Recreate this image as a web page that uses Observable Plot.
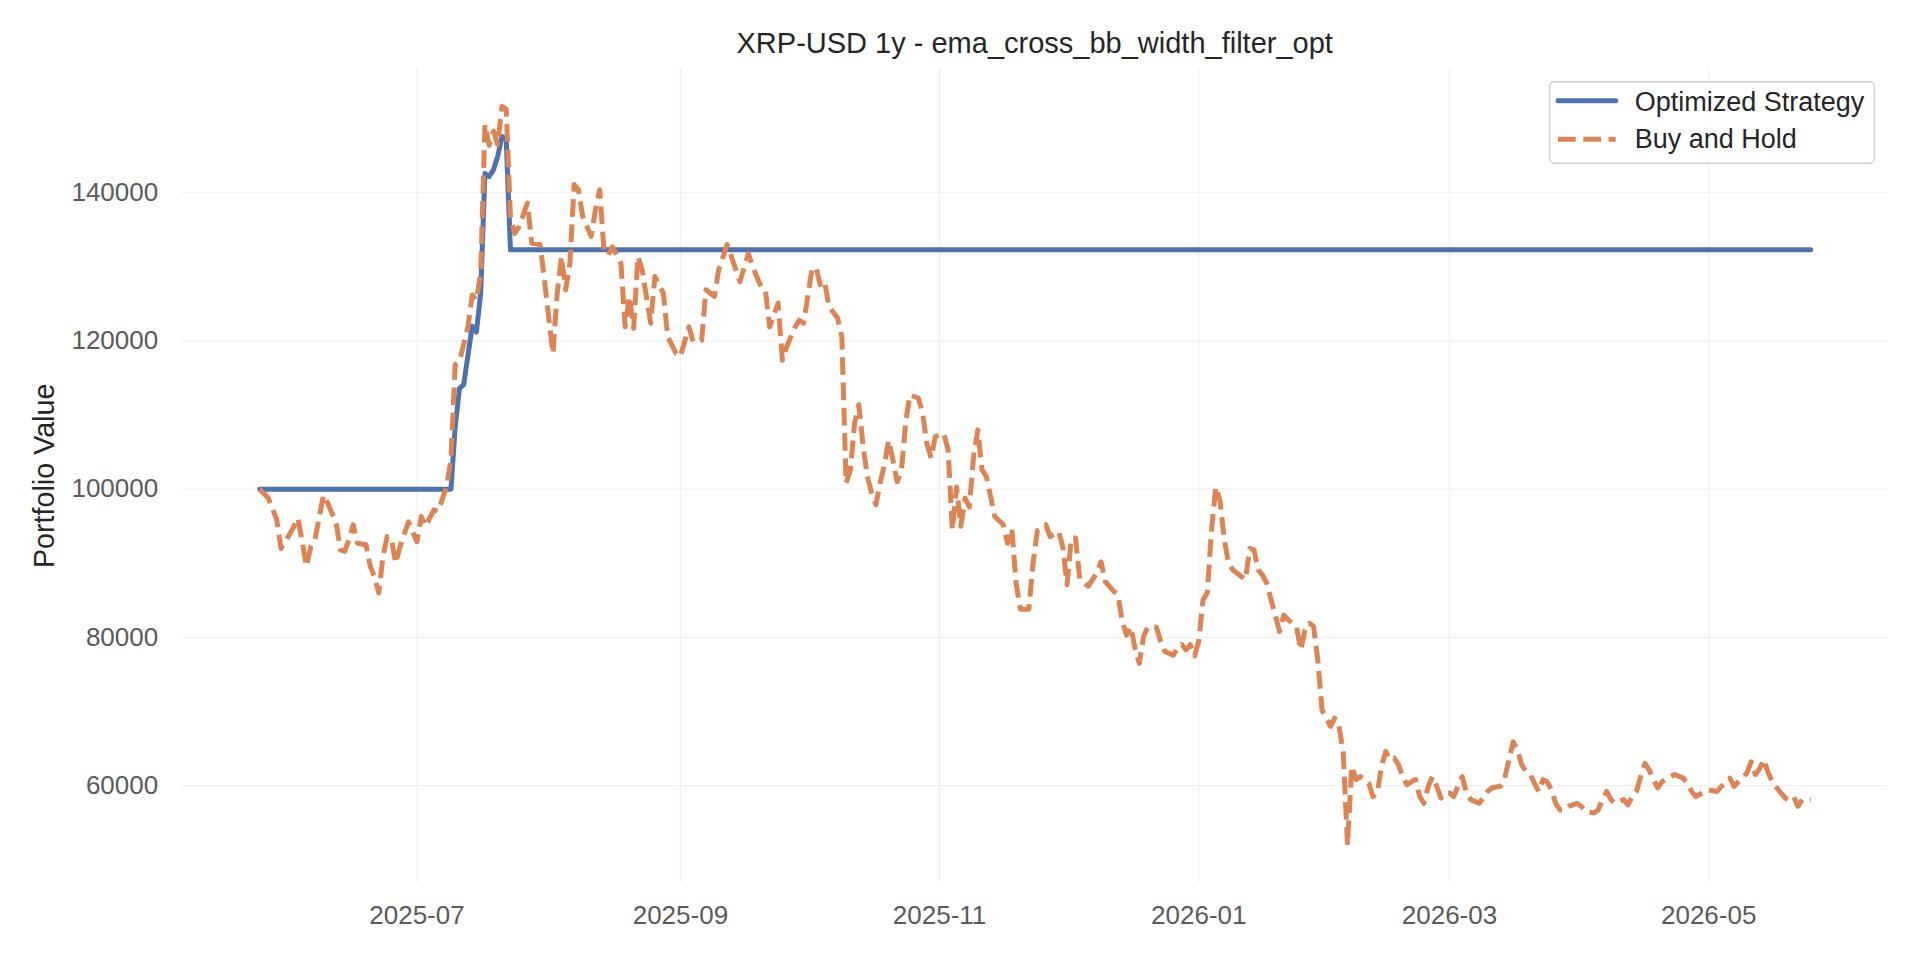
<!DOCTYPE html>
<html>
<head>
<meta charset="utf-8">
<script src="https://cdn.jsdelivr.net/npm/d3@7"></script>
<script src="https://cdn.jsdelivr.net/npm/@observablehq/plot@0.6"></script>
<style>
  html, body { margin: 0; padding: 0; background: #ffffff; }
  body { width: 1920px; height: 960px; position: relative; overflow: hidden;
         font-family: "Liberation Sans", Arial, "DejaVu Sans", sans-serif; }
  #title { position: absolute; left: 0; top: 0; }
  #chart { position: absolute; left: 0; top: 60px; }
  #legend { position: absolute; left: 1549px; top: 81px; }
</style>
</head>
<body>
<svg id="title" width="1920" height="60"></svg>
<div id="chart"></div>
<svg id="legend" width="328" height="86"></svg>
<script>
const chartTitle = "XRP-USD 1y - ema_cross_bb_width_filter_opt";
const yLabel = "Portfolio Value";
const seriesNames = ["Optimized Strategy", "Buy and Hold"];
const seriesColors = ["#4c72b0", "#dd8452"];

const strategyDates = ["2025-05-25","2025-07-09","2025-07-10","2025-07-11","2025-07-12","2025-07-14","2025-07-15","2025-07-16","2025-07-17","2025-07-18","2025-07-19","2025-07-20","2025-07-21","2025-07-22","2025-07-23","2026-05-25"];
const strategyValues = [100000,100000,108400,113600,114100,122000,121200,126500,142600,142200,143100,144900,147600,147300,132300,132300];

const holdDates = [
"2025-05-25","2025-05-27","2025-05-29","2025-05-30","2025-05-31","2025-06-02","2025-06-03","2025-06-05","2025-06-06","2025-06-07",
"2025-06-09","2025-06-10","2025-06-12","2025-06-13","2025-06-14","2025-06-15","2025-06-16","2025-06-17","2025-06-19","2025-06-20",
"2025-06-21","2025-06-22","2025-06-23","2025-06-24","2025-06-25","2025-06-26","2025-06-27","2025-06-29","2025-07-01","2025-07-02",
"2025-07-03","2025-07-05","2025-07-06","2025-07-08","2025-07-09","2025-07-10","2025-07-11","2025-07-13","2025-07-14","2025-07-15",
"2025-07-16","2025-07-17","2025-07-18","2025-07-19","2025-07-20","2025-07-21","2025-07-22","2025-07-23","2025-07-24","2025-07-25",
"2025-07-27","2025-07-28","2025-07-30","2025-07-31","2025-08-02","2025-08-03","2025-08-04","2025-08-05","2025-08-06","2025-08-07",
"2025-08-08","2025-08-09","2025-08-11","2025-08-12","2025-08-13","2025-08-14","2025-08-15","2025-08-16","2025-08-18","2025-08-19",
"2025-08-20","2025-08-21","2025-08-22","2025-08-23","2025-08-25","2025-08-26","2025-08-28","2025-08-29","2025-08-31","2025-09-01",
"2025-09-03","2025-09-04","2025-09-06","2025-09-07","2025-09-09","2025-09-10","2025-09-12","2025-09-13","2025-09-15","2025-09-17",
"2025-09-18","2025-09-20","2025-09-21","2025-09-22","2025-09-24","2025-09-25","2025-09-26","2025-09-28","2025-09-29","2025-09-30",
"2025-10-02","2025-10-03","2025-10-04","2025-10-05","2025-10-06","2025-10-08","2025-10-09","2025-10-10","2025-10-11","2025-10-12",
"2025-10-13","2025-10-14","2025-10-15","2025-10-16","2025-10-17","2025-10-18","2025-10-19","2025-10-20","2025-10-21","2025-10-22",
"2025-10-23","2025-10-24","2025-10-25","2025-10-27","2025-10-28","2025-10-29","2025-10-30","2025-10-31","2025-11-02","2025-11-03",
"2025-11-04","2025-11-05","2025-11-06","2025-11-07","2025-11-08","2025-11-09","2025-11-10","2025-11-11","2025-11-12","2025-11-14",
"2025-11-16","2025-11-17","2025-11-18","2025-11-19","2025-11-20","2025-11-22","2025-11-23","2025-11-24","2025-11-25","2025-11-26",
"2025-11-27","2025-11-29","2025-11-30","2025-12-01","2025-12-02","2025-12-03","2025-12-04","2025-12-06","2025-12-08","2025-12-09",
"2025-12-10","2025-12-12","2025-12-13","2025-12-14","2025-12-15","2025-12-16","2025-12-17","2025-12-18","2025-12-19","2025-12-20",
"2025-12-22","2025-12-23","2025-12-24","2025-12-26","2025-12-27","2025-12-28","2025-12-29","2025-12-30","2025-12-31","2026-01-01",
"2026-01-02","2026-01-03","2026-01-04","2026-01-05","2026-01-06","2026-01-07","2026-01-08","2026-01-09","2026-01-12","2026-01-13",
"2026-01-14","2026-01-15","2026-01-16","2026-01-17","2026-01-18","2026-01-20","2026-01-21","2026-01-22","2026-01-24","2026-01-25",
"2026-01-26","2026-01-27","2026-01-28","2026-01-29","2026-01-30","2026-02-01","2026-02-02","2026-02-03","2026-02-04","2026-02-05",
"2026-02-06","2026-02-07","2026-02-08","2026-02-10","2026-02-11","2026-02-12","2026-02-13","2026-02-14","2026-02-15","2026-02-16",
"2026-02-17","2026-02-18","2026-02-19","2026-02-20","2026-02-21","2026-02-22","2026-02-23","2026-02-24","2026-02-25","2026-02-26",
"2026-02-27","2026-02-28","2026-03-01","2026-03-02","2026-03-03","2026-03-04","2026-03-05","2026-03-06","2026-03-08","2026-03-10",
"2026-03-11","2026-03-13","2026-03-14","2026-03-15","2026-03-16","2026-03-17","2026-03-18","2026-03-19","2026-03-20","2026-03-21",
"2026-03-22","2026-03-23","2026-03-24","2026-03-25","2026-03-26","2026-03-27","2026-03-28","2026-03-29","2026-03-31","2026-04-01",
"2026-04-02","2026-04-04","2026-04-05","2026-04-06","2026-04-07","2026-04-08","2026-04-09","2026-04-11","2026-04-12","2026-04-13",
"2026-04-14","2026-04-15","2026-04-16","2026-04-17","2026-04-18","2026-04-19","2026-04-20","2026-04-22","2026-04-23","2026-04-25",
"2026-04-26","2026-04-27","2026-04-28","2026-04-30","2026-05-01","2026-05-03","2026-05-04","2026-05-06","2026-05-07","2026-05-08",
"2026-05-09","2026-05-10","2026-05-11","2026-05-12","2026-05-13","2026-05-14","2026-05-15","2026-05-16","2026-05-17","2026-05-19",
"2026-05-20","2026-05-21","2026-05-22","2026-05-23","2026-05-25"];
const holdValues = [
100000,98800,95900,92000,92900,94900,96100,89600,92200,93200,
99200,98100,95400,91800,91600,93200,95200,92700,92500,89600,
88200,86000,90900,93600,93200,90000,92200,95600,92900,96300,
95000,97200,97000,100400,104000,116800,117200,121900,126200,125500,
129200,149200,146400,148300,146500,151650,151300,136800,134500,135400,
138600,133200,133000,128200,118300,126400,131400,126900,130500,141100,
140400,136800,134100,137700,140400,132300,131600,132700,130500,121900,
126000,121700,131400,129600,122400,128700,126400,120600,118300,117900,
121900,119900,120100,126900,126000,129600,133000,131400,128000,131800,
130000,127300,126900,121900,125100,117400,119200,121900,122800,122400,
129800,129800,127300,127800,124600,123100,120500,100800,102600,108900,
111400,105800,101700,99500,97900,100800,103300,106600,104000,101000,
102400,108900,112700,112300,110200,106200,104200,107100,107500,105300,
94500,100300,95000,98800,97600,104400,108000,102600,101700,96300,
95200,92700,94700,87300,83800,83800,90000,94400,94700,95200,
93600,94300,92200,87100,93400,93400,87800,86900,88700,90200,
87500,86200,85700,82100,80300,81400,78500,76500,80100,81400,
81400,79500,78100,77600,78500,79000,78300,79000,77500,79500,
85100,86000,94500,100300,98400,93200,90000,89100,87800,92000,
91800,89100,88400,87300,85100,80800,83000,82400,81400,78300,
81000,81900,81500,77000,70200,68000,69100,68000,64400,51940,
62600,60800,61200,60300,58500,59000,62600,64600,63500,63700,
62800,61200,60100,60500,60800,58500,57600,59900,61200,59900,
58300,59000,59000,58500,59900,61200,59000,58100,57600,59200,
59700,59900,61000,63500,65900,64800,62800,61900,61500,60300,
59200,60800,60500,59400,57600,56700,56700,57200,57600,57200,
56500,56300,56700,58100,59200,58100,57600,58100,57400,58500,
59200,61200,63000,62100,60800,59700,60500,61200,61500,61000,
60300,59200,58500,59200,59400,59200,59900,61000,59900,60500,
61000,61700,63200,61500,62300,63500,61700,60500,59700,58300,
58100,58500,57200,58100,58100];

const xTickDates = ["2025-07-01","2025-09-01","2025-11-01","2026-01-01","2026-03-01","2026-05-01"];
const yTickValues = [60000, 80000, 100000, 120000, 140000];

const strategy = strategyDates.map((d, i) => ({date: new Date(d), value: strategyValues[i]}));
const hold = holdDates.map((d, i) => ({date: new Date(d), value: holdValues[i]}));
const xTicks = xTickDates.map(d => new Date(d));

// matplotlib-like 5% margins around data extent
const allDates = hold.map(d => d.date).concat(strategy.map(d => d.date));
const allVals = holdValues.concat(strategyValues);
const [x0, x1] = d3.extent(allDates);
const [y0, y1] = d3.extent(allVals);
const xPad = (x1 - x0) * 0.05, yPad = (y1 - y0) * 0.05;

const FONT = '"Liberation Sans", Arial, "DejaVu Sans", sans-serif';
const W = 1920, H = 900;
const mL = 181.7, mR = 32.3, mT = 9, mB = 78.3;

const chart = Plot.plot({
  width: W, height: H,
  marginLeft: mL, marginRight: mR, marginTop: mT, marginBottom: mB,
  style: {fontFamily: FONT, background: "#ffffff", overflow: "visible"},
  x: {type: "utc", domain: [new Date(+x0 - xPad), new Date(+x1 + xPad)]},
  y: {domain: [y0 - yPad, y1 + yPad]},
  marks: [
    Plot.gridX(xTicks, {stroke: "#efefef", strokeOpacity: 1, strokeWidth: 1.2}),
    Plot.gridY(yTickValues, {stroke: "#efefef", strokeOpacity: 1, strokeWidth: 1.2}),
    Plot.axisX(xTicks, {tickSize: 0, tickPadding: 23, tickFormat: d3.utcFormat("%Y-%m"),
      fontSize: 26, color: "#5a5a5a", label: null}),
    Plot.axisY(yTickValues, {tickSize: 0, tickPadding: 24, tickFormat: d3.format("d"),
      fontSize: 26, color: "#5a5a5a", label: null}),
    Plot.text([yLabel], {text: d => d, frameAnchor: "left", rotate: -90, dx: -137.6,
      textAnchor: "middle", lineAnchor: "middle", fontSize: 28.7, fill: "#262626"}),
    Plot.line(strategy, {x: "date", y: "value", stroke: seriesColors[0], strokeWidth: 5,
      strokeLinejoin: "round", strokeLinecap: "round"}),
    Plot.line(hold, {x: "date", y: "value", stroke: seriesColors[1], strokeWidth: 5,
      strokeDasharray: "17.7,7.6", strokeLinejoin: "round", strokeLinecap: "butt"})
  ]
});
document.getElementById("chart").appendChild(chart);

// title
const ts = d3.select("#title");
ts.append("text").attr("x", mL + (W - mL - mR) / 2).attr("y", 53.3)
  .attr("text-anchor", "middle").attr("font-family", FONT).attr("font-size", 29)
  .attr("fill", "#262626").text(chartTitle);

// legend (matplotlib-style box)
const lg = d3.select("#legend");
lg.append("rect").attr("x", 0.75).attr("y", 0.75).attr("width", 324.5).attr("height", 81.5)
  .attr("rx", 4).attr("fill", "#ffffff").attr("fill-opacity", 0.8)
  .attr("stroke", "#d0d0d0").attr("stroke-width", 1.5);
const rowsY = [19.7, 58.3], textY = [30, 67.3];
seriesNames.forEach((name, i) => {
  const ln = lg.append("line").attr("x1", 9).attr("x2", 66.7).attr("y1", rowsY[i]).attr("y2", rowsY[i])
    .attr("stroke", seriesColors[i]).attr("stroke-width", 5);
  if (i === 1) ln.attr("stroke-dasharray", "17.7,7.6").attr("stroke-linecap", "butt");
  else ln.attr("stroke-linecap", "round");
  lg.append("text").attr("x", 85.7).attr("y", textY[i]).attr("font-family", FONT)
    .attr("font-size", 27).attr("fill", "#262626").text(name);
});
</script>
</body>
</html>
